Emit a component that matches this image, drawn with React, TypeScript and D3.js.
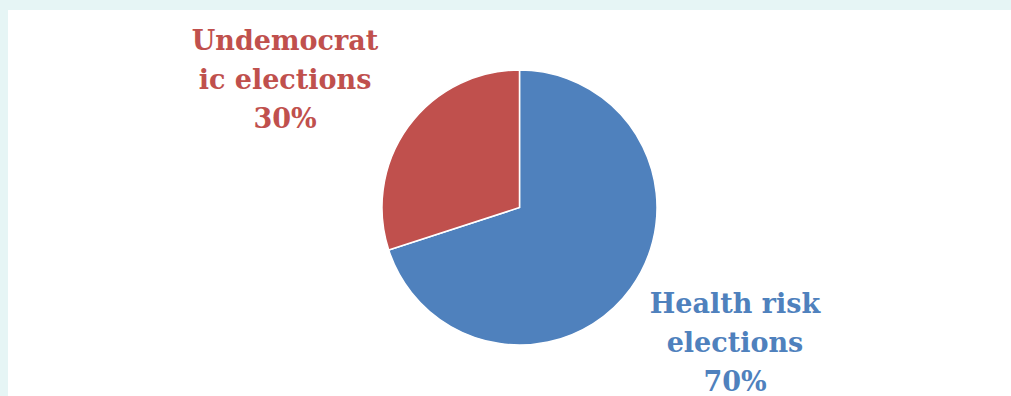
import React from "react";
import * as d3 from "d3";

const categories = ["Health risk elections", "Undemocratic elections"];
const values = [70, 30];
const labelLines = [
  ["Health risk", "elections", "70%"],
  ["Undemocrat", "ic elections", "30%"],
];
const colors = ["#4f81bd", "#c0504d"];

const W = 1011;
const H = 396;

export default function App() {
  const cx = 519.5;
  const cy = 207.5;
  const r = 137.5;
  const pie = d3.pie<number>().sort(null).value((d) => d);
  const arcs = pie(values);
  const arcGen = d3.arc<d3.PieArcDatum<number>>().innerRadius(0).outerRadius(r);
  const labelPos = [
    { x: 735, y: 313 },
    { x: 285, y: 50 },
  ];
  return (
    <div style={{ position: "fixed", left: 0, top: 0, width: W, height: H }}>
      <svg width={W} height={H} style={{ display: "block" }}>
        <rect x={0} y={0} width={W} height={H} fill="#e6f5f5" />
        <rect x={8} y={10} width={W - 8} height={H - 10} fill="#ffffff" />
        <g transform={`translate(${cx},${cy})`}>
          {arcs.map((a, i) => (
            <path key={categories[i]} d={arcGen(a) || ""} fill={colors[i]} stroke="#ffffff" strokeWidth={1.5} />
          ))}
        </g>
        {labelLines.map((lines, i) => (
          <text
            key={i}
            x={labelPos[i].x}
            y={labelPos[i].y}
            textAnchor="middle"
            fontFamily="'DejaVu Serif', serif"
            fontWeight="bold"
            fontSize={27}
            fill={colors[i]}
          >
            {lines.map((l, j) => (
              <tspan key={j} x={labelPos[i].x} y={labelPos[i].y + j * 39}>
                {l}
              </tspan>
            ))}
          </text>
        ))}
      </svg>
    </div>
  );
}
